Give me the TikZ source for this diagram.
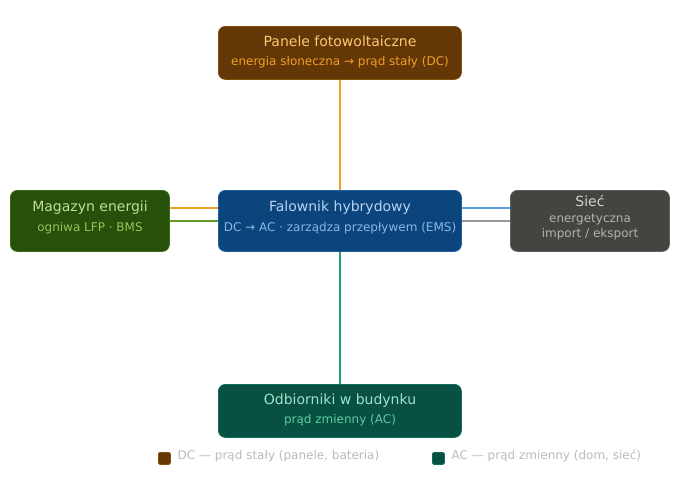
\documentclass[tikz,border=0pt]{standalone}
\usepackage{fontspec}
\setmainfont{DejaVu Sans}
\definecolor{amberF}{HTML}{633806}
\definecolor{amberB}{HTML}{854F0B}
\definecolor{amberT}{HTML}{FAC775}
\definecolor{amberS}{HTML}{EF9F27}
\definecolor{blueF}{HTML}{0C447C}
\definecolor{blueB}{HTML}{185FA5}
\definecolor{blueT}{HTML}{B5D4F4}
\definecolor{blueS}{HTML}{85B7EB}
\definecolor{blueL}{HTML}{5A9BE0}
\definecolor{greenF}{HTML}{27500A}
\definecolor{greenB}{HTML}{3B6D11}
\definecolor{greenT}{HTML}{C0DD97}
\definecolor{greenS}{HTML}{97C459}
\definecolor{greenL}{HTML}{639922}
\definecolor{grayF}{HTML}{444441}
\definecolor{grayB}{HTML}{5F5E5A}
\definecolor{grayT}{HTML}{D3D1C7}
\definecolor{grayS}{HTML}{B4B2A9}
\definecolor{grayL}{HTML}{999890}
\definecolor{tealF}{HTML}{085041}
\definecolor{tealB}{HTML}{0F6E56}
\definecolor{tealT}{HTML}{9FE1CB}
\definecolor{tealS}{HTML}{5DCAA5}
\definecolor{tealL}{HTML}{1D9E75}
\definecolor{legT}{HTML}{BDBBB3}
\begin{document}
\begin{tikzpicture}[x=1pt,y=-1pt,
  box/.style={draw, rounded corners=7pt, line width=0.8pt, inner sep=0pt, anchor=north west},
  wide/.style={box, minimum width=243pt},
  narrow/.style={box, minimum width=159pt},
  ttl/.style={anchor=base, inner sep=0pt, font=\fontsize{14}{16}\selectfont},
  sub/.style={anchor=base, inner sep=0pt, font=\fontsize{12}{14}\selectfont},
  conn/.style={line width=1.6pt},
  legbox/.style={draw, rounded corners=1.5pt, line width=0.8pt, minimum width=12pt, minimum height=12pt, inner sep=0pt, anchor=north west},
  legtxt/.style={anchor=base west, inner sep=0pt, text=legT, font=\fontsize{12}{14}\selectfont}]
\useasboundingbox[fill=white] (0,0) rectangle (680,490);

% boxes
\node[wide, minimum height=53pt, fill=amberF, draw=amberB] (pv) at (218,26) {};
\node[wide, minimum height=61pt, fill=blueF, draw=blueB] (inv) at (218,190) {};
\node[narrow, minimum height=61pt, fill=greenF, draw=greenB] (mag) at (10,190) {};
\node[narrow, minimum height=61pt, fill=grayF, draw=grayB] (grid) at (510,190) {};
\node[wide, minimum height=53pt, fill=tealF, draw=tealB] (load) at (218,384) {};

% connectors
\draw[conn, amberS] (pv.south) -- (inv.north);
\draw[conn, tealL] (inv.south) -- (load.north);
\draw[conn, amberS] (mag.east |- 0,208) -- (inv.west |- 0,208);
\draw[conn, greenL] (mag.east |- 0,221) -- (inv.west |- 0,221);
\draw[conn, blueL] (inv.east |- 0,208) -- (grid.west |- 0,208);
\draw[conn, grayL] (inv.east |- 0,221) -- (grid.west |- 0,221);

% texts
\node[ttl, text=amberT] (pvt) at (340,46.5) {Panele fotowoltaiczne};
\node[sub, text=amberS] (pvs) at (340,65.3) {energia słoneczna → prąd stały (DC)};
\node[ttl, text=blueT] (invt) at (340,211.3) {Falownik hybrydowy};
\node[sub, text=blueS] (invs) at (340,231.3) {DC → AC · zarządza przepływem (EMS)};
\node[ttl, text=greenT] (magt) at (90,211.5) {Magazyn energii};
\node[sub, text=greenS] (mags) at (90,231.2) {ogniwa LFP · BMS};
\node[ttl, text=grayT] (gridt) at (590,206.5) {Sieć};
\node[sub, text=grayS] (grids1) at (590,222) {energetyczna};
\node[sub, text=grayS] (grids2) at (590,237.7) {import / eksport};
\node[ttl, text=tealT] (loadt) at (340,404) {Odbiorniki w budynku};
\node[sub, text=tealS] (loads) at (340,423.3) {prąd zmienny (AC)};

% legend
\node[legbox, fill=amberF, draw=amberB] (ldc) at (158,452) {};
\node[legtxt] (ldct) at (177.5,459.3) {DC — prąd stały (panele, bateria)};
\node[legbox, fill=tealF, draw=tealB] (lac) at (432,452) {};
\node[legtxt] (lact) at (451.5,459.3) {AC — prąd zmienny (dom, sieć)};
\end{tikzpicture}
\end{document}
